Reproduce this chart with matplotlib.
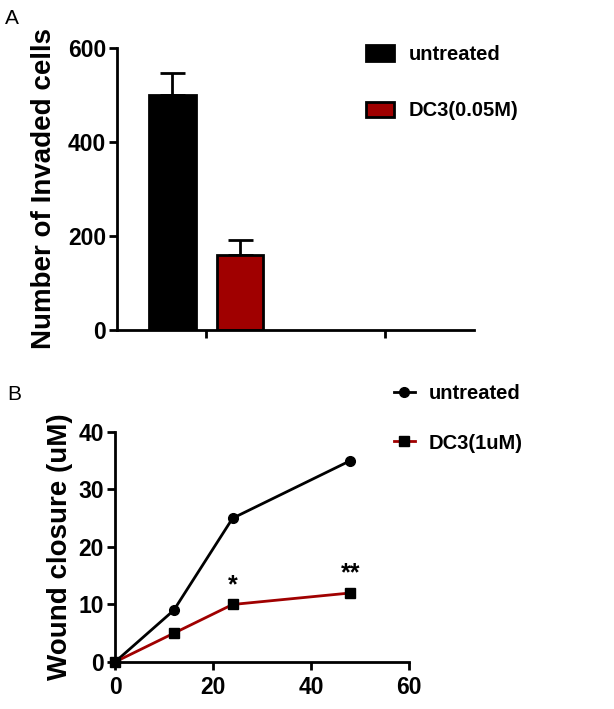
import matplotlib.pyplot as plt
import numpy as np
from matplotlib.lines import Line2D
from matplotlib.patches import FancyBboxPatch

plt.rcParams['font.family'] = ['Liberation Sans', 'DejaVu Sans']

# panel A data
groups = ['untreated', 'DC3(0.05M)']
invaded = [500, 160]
invaded_err = [46, 32]
bar_colors = ['#000000', '#a00000']

# panel B data
hours = [0, 12, 24, 48]
closure_untreated = [0, 9, 25, 35]
closure_dc3 = [0, 5, 10, 12]
stars = {24: '*', 48: '**'}

red = '#a00000'

fig = plt.figure(figsize=(6.14, 7.09), dpi=100)

# ---- panel A ----
ax1 = fig.add_axes([0.1906, 0.5346, 0.5814, 0.3977])
offsets = [-0.19, 0.19]
for i in range(len(groups)):
    ax1.bar(offsets[i], invaded[i], width=0.26, color=bar_colors[i],
            edgecolor='black', linewidth=2, zorder=2)
    ax1.errorbar(offsets[i], invaded[i], yerr=[[0], [invaded_err[i]]],
                 fmt='none', ecolor='black', elinewidth=2, capsize=9,
                 capthick=2, zorder=1)
ax1.set_xlim(-0.5, 1.5)
ax1.set_ylim(0, 600)
ax1.set_yticks([0, 200, 400, 600])
ax1.set_xticks([0, 1])
ax1.set_xticklabels([])
ax1.set_ylabel('Number of Invaded cells', fontsize=20, fontweight='bold', labelpad=8)

# ---- panel B ----
ax2 = fig.add_axes([0.1873, 0.0663, 0.4788, 0.3244])
ax2.plot(hours, closure_untreated, color='black', lw=2, marker='o', ms=7,
         clip_on=False, zorder=3)
ax2.plot(hours, closure_dc3, color=red, lw=2, marker='s', ms=7,
         mfc='black', mec='black', clip_on=False, zorder=3)
for h, s in stars.items():
    yv = closure_dc3[hours.index(h)]
    ax2.text(h, yv + 1.3, s, ha='center', va='bottom', fontsize=18, fontweight='bold')
ax2.set_xlim(0, 60)
ax2.set_ylim(0, 40)
ax2.set_xticks([0, 20, 40, 60])
ax2.set_yticks([0, 10, 20, 30, 40])
ax2.set_ylabel('Wound closure (uM)', fontsize=20, fontweight='bold', labelpad=4)

for ax in (ax1, ax2):
    for side in ('top', 'right'):
        ax.spines[side].set_visible(False)
    for side in ('left', 'bottom'):
        ax.spines[side].set_linewidth(2)
    ax.tick_params(direction='out', width=2, length=6, labelsize=16.5, pad=2)
    for lab in ax.get_xticklabels() + ax.get_yticklabels():
        lab.set_fontweight('bold')
ax2.tick_params(axis='x', pad=4)

# legends
h_a = [FancyBboxPatch((0, 0), 1, 1, boxstyle='round,pad=0.1', facecolor=c,
                      edgecolor='black', linewidth=2) for c in bar_colors]
fig.legend(h_a, groups, loc='upper left', bbox_to_anchor=(0.567, 0.962),
           frameon=False, prop={'weight': 'bold', 'size': 14.5},
           handlelength=1.4, handleheight=0.8, labelspacing=1.85, handletextpad=0.72)

h_b = [Line2D([], [], color='black', lw=2, marker='o', ms=7),
       Line2D([], [], color=red, lw=2, marker='s', ms=7, mfc='black', mec='black')]
fig.legend(h_b, ['untreated', 'DC3(1uM)'], loc='upper left',
           bbox_to_anchor=(0.612, 0.4835), frameon=False,
           prop={'weight': 'bold', 'size': 14.5}, handlelength=1.05,
           labelspacing=1.5, handletextpad=0.67)

fig.text(0.008, 0.988, 'A', fontsize=15, va='top')
fig.text(0.012, 0.457, 'B', fontsize=15, va='top')

fig.savefig('out.png', dpi=100)
